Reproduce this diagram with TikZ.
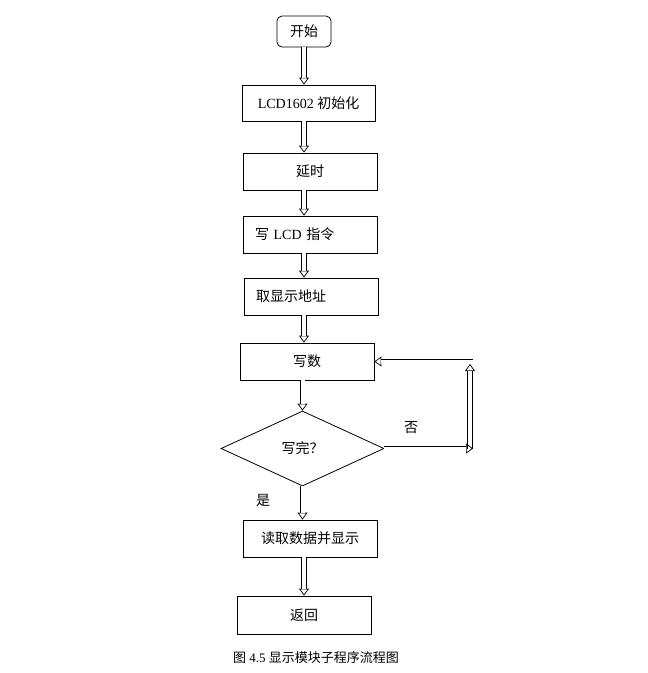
\documentclass[tikz,border=0pt]{standalone}
\usepackage{fontspec}
\setmainfont{Liberation Serif}
\newfontfamily\cjk{Noto Sans CJK SC}
\usetikzlibrary{arrows.meta,shapes.geometric}
% hollow double-line arrow: tip first, shaft on top hides the centre line
\newcommand{\darrow}[2]{\draw[tipline] #1 -- #2; \draw[shaft] #1 -- #2;}

\begin{document}
\begin{tikzpicture}[x=1pt,y=-1pt,font=\fontsize{14}{16}\selectfont,
  box/.style={draw,line width=0.8pt,minimum width=134pt,minimum height=37pt,inner sep=0pt},
  lbox/.style={box,text width=110pt,align=left},
  dec/.style={draw,diamond,line width=0.8pt,minimum width=163pt,minimum height=75pt,inner sep=0pt},
  tipline/.style={line width=0.7pt,-{Triangle[open,length=7pt,width=10pt]}},
  shaft/.style={double,double distance=4pt,line width=0.7pt,shorten >=7pt}]
\useasboundingbox (0,0) rectangle (648,673);
\coordinate (spine) at (304,0);
\node[box,rounded corners=5pt,minimum width=54pt,minimum height=31pt] (start) at (304,31.5) {\cjk 开始};
\node[box,minimum width=133pt,minimum height=36pt] (init) at (308.5,103) {LCD1602 {\cjk 初始化}};
\node[box] (delay) at (310,171.5) {\cjk 延时};
\node[lbox] (cmd) at (310,234.5) {{\cjk 写} LCD {\cjk 指令}};
\node[lbox] (addr) at (311,296.5) {\cjk 取显示地址};
\node[box] (wr) at (307,361.5) {\cjk 写数};
\node[dec] (done) at (302.5,448.5) {\cjk 写完？};
\node[box] (show) at (310,538.5) {\cjk 读取数据并显示};
\node[box,minimum height=38pt] (ret) at (304,615) {\cjk 返回};
\node (no) at (411,428) {\cjk 否};
\node (yes) at (263,500) {\cjk 是};
\node[font=\fontsize{13}{15}\selectfont] (cap) at (316,658) {{\cjk 图} 4.5 {\cjk 显示模块子程序流程图}};
\coordinate (b1) at (473,448.5);
\coordinate (b2) at (470,364);
\coordinate (b3) at (472.5,361.5);
% main flow
\darrow{(start.south -| spine)}{(init.north -| spine)}
\darrow{(init.south -| spine)}{(delay.north -| spine)}
\darrow{(delay.south -| spine)}{(cmd.north -| spine)}
\darrow{(cmd.south -| spine)}{(addr.north -| spine)}
\darrow{(addr.south -| spine)}{(wr.north -| spine)}
\darrow{(wr.south -| done.north)}{(done.north)}
\darrow{(done.south)}{(show.north -| done.south)}
\darrow{(show.south -| spine)}{(ret.north -| spine)}
% loop back
\darrow{(b3)}{(wr.east)}
\darrow{(b2 |- b1)}{(b2)}
\darrow{(done.east)}{(b1)}
\end{tikzpicture}
\end{document}
